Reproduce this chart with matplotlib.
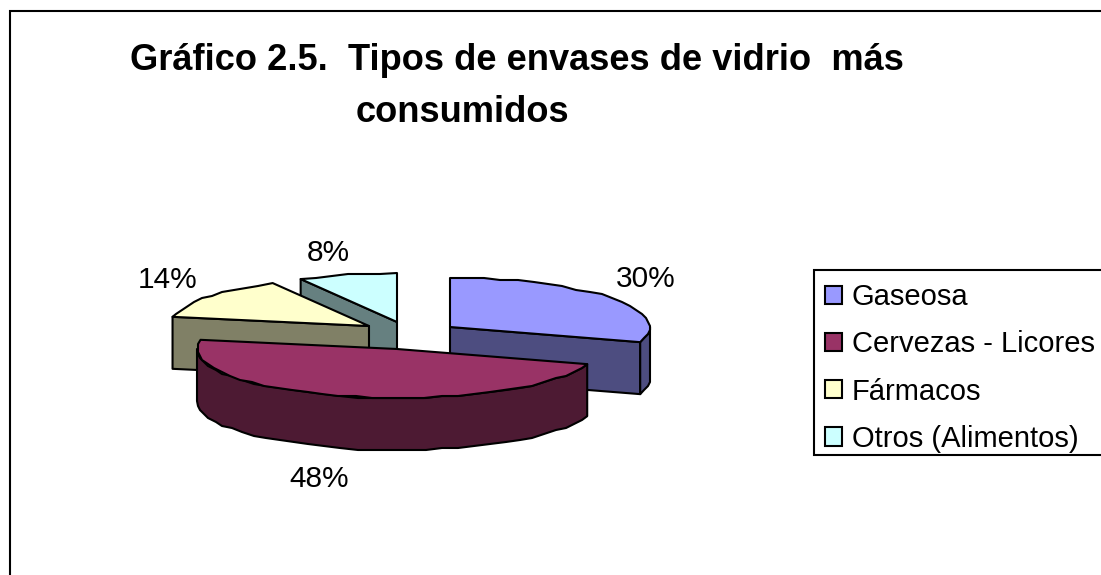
import numpy as np
import matplotlib
matplotlib.use("Agg")
import matplotlib.pyplot as plt
from matplotlib.patches import Polygon, Rectangle, Patch

categories = ["Gaseosa", "Cervezas - Licores", "Fármacos", "Otros (Alimentos)"]
shares = [30, 48, 14, 8]
percent_labels = ["30%", "48%", "14%", "8%"]
title_lines = ["Gráfico 2.5.  Tipos de envases de vidrio  más", "consumidos"]

top_colors = ["#9999FF", "#993366", "#FFFFCC", "#CCFFFF"]
side_colors = ["#4D4D80", "#4D1A33", "#808066", "#668080"]
centers = [(450, 327), (397, 349), (369, 326), (397, 322)]
label_pos = [(646, 279), (319, 479), (168, 280), (328, 253)]
RX, RY, DEPTH = 200, 49, 52
LW = 1.5

plt.rcParams["font.family"] = ["Liberation Sans", "DejaVu Sans"]
fig = plt.figure(figsize=(11.01, 5.75), dpi=100, facecolor="white")
ax = fig.add_axes([0, 0, 1, 1])
ax.set_xlim(0, 1101)
ax.set_ylim(575, 0)
ax.axis("off")

ax.add_patch(Rectangle((10, 11), 1200, 700, fc="white", ec="black", lw=LW, zorder=0))


def rim(c, a0, a1, step=5.0):
    n = max(int(abs(a1 - a0) / step) + 2, 2)
    t = np.radians(np.linspace(a0, a1, n))
    pts = np.column_stack([c[0] + RX * np.cos(t), c[1] - RY * np.sin(t)])
    # the reference outline is coarse and slightly stepped
    pts[1:-1] = np.round(pts[1:-1] / 2) * 2
    return pts


def drop(pts):
    return pts + np.array([0, DEPTH])


def face(pts, color, z):
    ax.add_patch(Polygon(pts, closed=True, fc=color, ec="black", lw=LW, joinstyle="round", zorder=z))


fractions = np.array(shares) / sum(shares)
ends = 90 - 360 * np.cumsum(fractions)
starts = np.concatenate([[90], ends[:-1]])
order = [3, 2, 0, 1]
for z, i in enumerate(order):
    base = 2 + z * 3
    c, a0, a1 = centers[i], starts[i], ends[i]
    apex = np.array([c], dtype=float)
    for a, test in ((a0, np.cos(np.radians(a0)) < -1e-6), (a1, np.cos(np.radians(a1)) > 1e-6)):
        if test:
            tip = np.array([[c[0] + RX * np.cos(np.radians(a)), c[1] - RY * np.sin(np.radians(a))]])
            edge = np.vstack([apex, tip])
            face(np.vstack([edge, drop(edge)[::-1]]), side_colors[i], base)
    lo, hi = a1 % 360, a0 % 360
    if hi <= lo:
        hi += 360
    wall_lo, wall_hi = max(lo, 180), min(hi, 360)
    if wall_hi > wall_lo:
        arc = rim(c, wall_lo, wall_hi)
        face(np.vstack([arc, drop(arc)[::-1]]), side_colors[i], base + 1)
    face(np.vstack([apex, rim(c, a0, a1)]), top_colors[i], base + 2)

for (x, y), s in zip(label_pos, percent_labels):
    ax.text(x, y, s, ha="center", va="center", fontsize=21.5, color="black", zorder=30)

ax.text(130, 60, title_lines[0], ha="left", va="center", fontsize=26.15, fontweight="bold", zorder=30)
ax.text(356, 112, title_lines[1], ha="left", va="center", fontsize=26.15, fontweight="bold", zorder=30)

ax.add_patch(Rectangle((814, 270), 400, 185, fc="white", ec="black", lw=LW, zorder=35))
handles = [Patch(fc=col, ec="black", lw=LW) for col in top_colors]
leg = ax.legend(handles, categories, loc="upper left", bbox_to_anchor=(825 / 1101, 1 - 283 / 575),
                borderaxespad=0, fontsize=21, frameon=False, handlelength=0.58, handleheight=0.58,
                handletextpad=0.34, labelspacing=0.66, borderpad=0)
leg.set_zorder(40)

fig.savefig("out.png", dpi=100, facecolor="white")
